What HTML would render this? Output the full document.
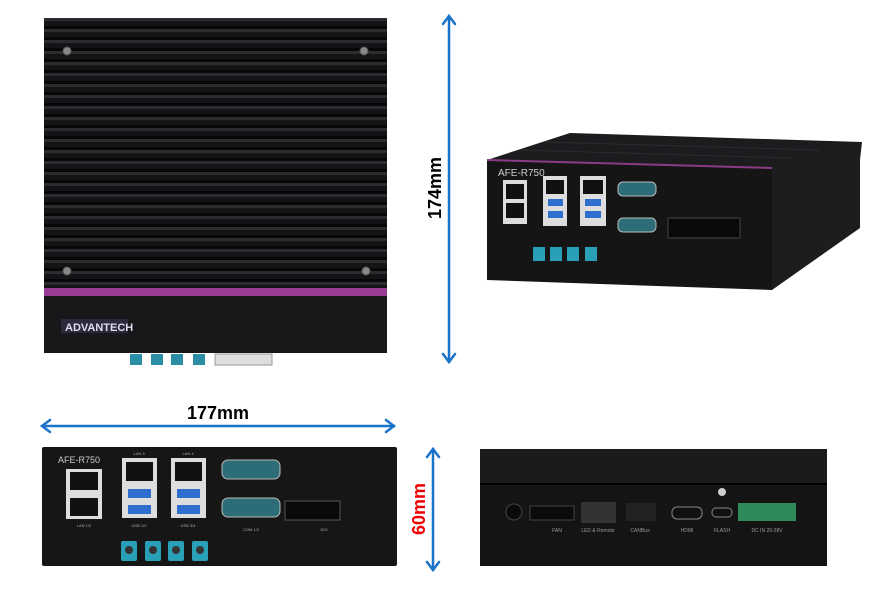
<!DOCTYPE html>
<html><head><meta charset="utf-8"><style>
html,body{margin:0;padding:0;background:#fff;width:884px;height:599px;overflow:hidden}
svg{display:block}
text{font-family:"Liberation Sans",sans-serif}
</style></head><body>
<svg width="884" height="599" viewBox="0 0 884 599" xmlns="http://www.w3.org/2000/svg">
<defs>
<pattern id="fins" x="0" y="18" width="10" height="11" patternUnits="userSpaceOnUse">
<rect width="10" height="11" fill="#141416"/>
<rect y="0" width="10" height="3" fill="#2c2c30"/>
<rect y="8" width="10" height="3" fill="#070708"/>
</pattern>
</defs>
<!-- TOP VIEW -->
<rect x="44" y="18" width="343" height="270" fill="url(#fins)"/>
<g fill="#888" stroke="#555" stroke-width="1">
<circle cx="67" cy="51" r="4"/><circle cx="364" cy="51" r="4"/>
<circle cx="67" cy="271" r="4"/><circle cx="366" cy="271" r="4"/>
</g>
<rect x="44" y="288" width="343" height="8" fill="#9a3c94"/>
<rect x="44" y="296" width="343" height="57" fill="#18181a"/>
<rect x="61" y="319" width="67" height="14" fill="#2a2a3a"/>
<text x="65" y="331" font-size="11" font-weight="bold" fill="#dde">ADVANTECH</text>
<g fill="#2a8fa6"><rect x="130" y="354" width="12" height="11"/><rect x="151" y="354" width="12" height="11"/><rect x="171" y="354" width="12" height="11"/><rect x="193" y="354" width="12" height="11"/></g>
<rect x="215" y="354" width="57" height="11" fill="#ddd" stroke="#999"/>
<!-- 174mm arrow -->
<g stroke="#1a73c8" stroke-width="2.5" fill="none" stroke-linecap="round">
<line x1="449" y1="16" x2="449" y2="362"/>
<polyline points="443,24 449,16 455,24"/><polyline points="443,354 449,362 455,354"/>
</g>
<text transform="translate(441,188) rotate(-90)" font-size="18" font-weight="bold" text-anchor="middle" fill="#000">174mm</text>
<!-- 3D VIEW -->
<polygon points="487,160 570,133 862,142 860,160 772,168" fill="#1c1c1e"/>
<g stroke="#2c2c30" stroke-width="1">
<line x1="520" y1="150" x2="790" y2="158"/><line x1="545" y1="142" x2="820" y2="150"/>
</g>
<polygon points="487,160 772,168 772,290 487,280" fill="#151516"/>
<polygon points="772,168 860,150 860,228 772,290" fill="#1d1d1f"/>
<line x1="487" y1="160" x2="772" y2="168" stroke="#8a3b86" stroke-width="2"/>
<text x="498" y="176" font-size="10" fill="#ccc">AFE-R750</text>
<rect x="503" y="180" width="24" height="44" fill="#ddd"/><rect x="506" y="184" width="18" height="15" fill="#111"/><rect x="506" y="203" width="18" height="15" fill="#111"/>
<rect x="543" y="176" width="24" height="50" fill="#ddd"/><rect x="546" y="180" width="18" height="14" fill="#111"/><rect x="548" y="199" width="15" height="7" fill="#2e6fd0"/><rect x="548" y="211" width="15" height="7" fill="#2e6fd0"/>
<rect x="580" y="176" width="26" height="50" fill="#ddd"/><rect x="583" y="180" width="20" height="14" fill="#111"/><rect x="585" y="199" width="16" height="7" fill="#2e6fd0"/><rect x="585" y="211" width="16" height="7" fill="#2e6fd0"/>
<rect x="618" y="182" width="38" height="14" rx="5" fill="#2c6d78" stroke="#bbb"/>
<rect x="618" y="218" width="38" height="14" rx="5" fill="#2c6d78" stroke="#bbb"/>
<rect x="668" y="218" width="72" height="20" fill="#0a0a0a" stroke="#444"/>
<g fill="#2a9fb8"><rect x="533" y="247" width="12" height="14"/><rect x="550" y="247" width="12" height="14"/><rect x="567" y="247" width="12" height="14"/><rect x="585" y="247" width="12" height="14"/></g>
<!-- 177mm arrow -->
<g stroke="#1a73c8" stroke-width="2.5" fill="none" stroke-linecap="round">
<line x1="42" y1="426" x2="394" y2="426"/>
<polyline points="50,420 42,426 50,432"/><polyline points="386,420 394,426 386,432"/>
</g>
<text x="218" y="419" font-size="18" font-weight="bold" text-anchor="middle" fill="#000">177mm</text>
<!-- FRONT PANEL -->
<rect x="42" y="447" width="355" height="119" fill="#161617" rx="2"/>
<text x="58" y="463" font-size="9" fill="#ccc">AFE-R750</text>
<rect x="66" y="469" width="36" height="50" fill="#ddd"/><rect x="70" y="472" width="28" height="18" fill="#111"/><rect x="70" y="498" width="28" height="18" fill="#111"/>
<text x="84" y="527" font-size="4" fill="#aaa" text-anchor="middle">LAN 1/2</text>
<rect x="122" y="458" width="35" height="60" fill="#ddd"/><rect x="126" y="462" width="27" height="19" fill="#111"/><rect x="128" y="489" width="23" height="9" fill="#2e6fd0"/><rect x="128" y="505" width="23" height="9" fill="#2e6fd0"/>
<rect x="171" y="458" width="35" height="60" fill="#ddd"/><rect x="175" y="462" width="27" height="19" fill="#111"/><rect x="177" y="489" width="23" height="9" fill="#2e6fd0"/><rect x="177" y="505" width="23" height="9" fill="#2e6fd0"/>
<text x="139" y="455" font-size="4" fill="#aaa" text-anchor="middle">LAN 3</text><text x="188" y="455" font-size="4" fill="#aaa" text-anchor="middle">LAN 4</text>
<text x="139" y="527" font-size="4" fill="#aaa" text-anchor="middle">USB 1/2</text><text x="188" y="527" font-size="4" fill="#aaa" text-anchor="middle">USB 3/4</text>
<rect x="222" y="460" width="58" height="19" rx="6" fill="#2c6d78" stroke="#bbb"/>
<rect x="222" y="498" width="58" height="19" rx="6" fill="#2c6d78" stroke="#bbb"/>
<text x="251" y="531" font-size="4" fill="#aaa" text-anchor="middle">COM 1/2</text>
<rect x="285" y="501" width="55" height="19" fill="#0a0a0a" stroke="#555"/>
<text x="324" y="531" font-size="4" fill="#aaa" text-anchor="middle">DIO</text>
<g fill="#2a9fb8"><rect x="121" y="541" width="16" height="20" rx="2"/><rect x="145" y="541" width="16" height="20" rx="2"/><rect x="168" y="541" width="16" height="20" rx="2"/><rect x="192" y="541" width="16" height="20" rx="2"/></g>
<g fill="#333"><circle cx="129" cy="550" r="4"/><circle cx="153" cy="550" r="4"/><circle cx="176" cy="550" r="4"/><circle cx="200" cy="550" r="4"/></g>
<!-- 60mm arrow -->
<g stroke="#1a73c8" stroke-width="2.5" fill="none" stroke-linecap="round">
<line x1="433" y1="449" x2="433" y2="570"/>
<polyline points="427,457 433,449 439,457"/><polyline points="427,562 433,570 439,562"/>
</g>
<text transform="translate(425,509) rotate(-90)" font-size="18" font-weight="bold" text-anchor="middle" fill="#e00">60mm</text>
<!-- REAR VIEW -->
<rect x="480" y="449" width="347" height="34" fill="#1b1b1d"/>
<rect x="480" y="483" width="347" height="2" fill="#000"/>
<rect x="480" y="485" width="347" height="81" fill="#141415"/>
<circle cx="514" cy="512" r="8" fill="#0a0a0a" stroke="#444"/>
<rect x="530" y="506" width="44" height="14" fill="#0a0a0a" stroke="#444"/>
<rect x="581" y="502" width="35" height="21" fill="#333"/>
<rect x="626" y="503" width="30" height="18" fill="#222"/>
<rect x="672" y="507" width="30" height="12" rx="5" fill="#111" stroke="#888"/>
<rect x="712" y="508" width="20" height="9" rx="4" fill="#111" stroke="#888"/>
<circle cx="722" cy="492" r="4" fill="#ccc"/>
<rect x="738" y="503" width="58" height="18" fill="#2f8a5a"/>
<g fill="#999" font-size="5" text-anchor="middle"><text x="557" y="532">FAN</text><text x="598" y="532">LED &amp; Remote</text><text x="640" y="532">CANBus</text><text x="687" y="532">HDMI</text><text x="722" y="532">FLASH</text><text x="767" y="532">DC IN 20-28V</text></g>
</svg>
</body></html>
